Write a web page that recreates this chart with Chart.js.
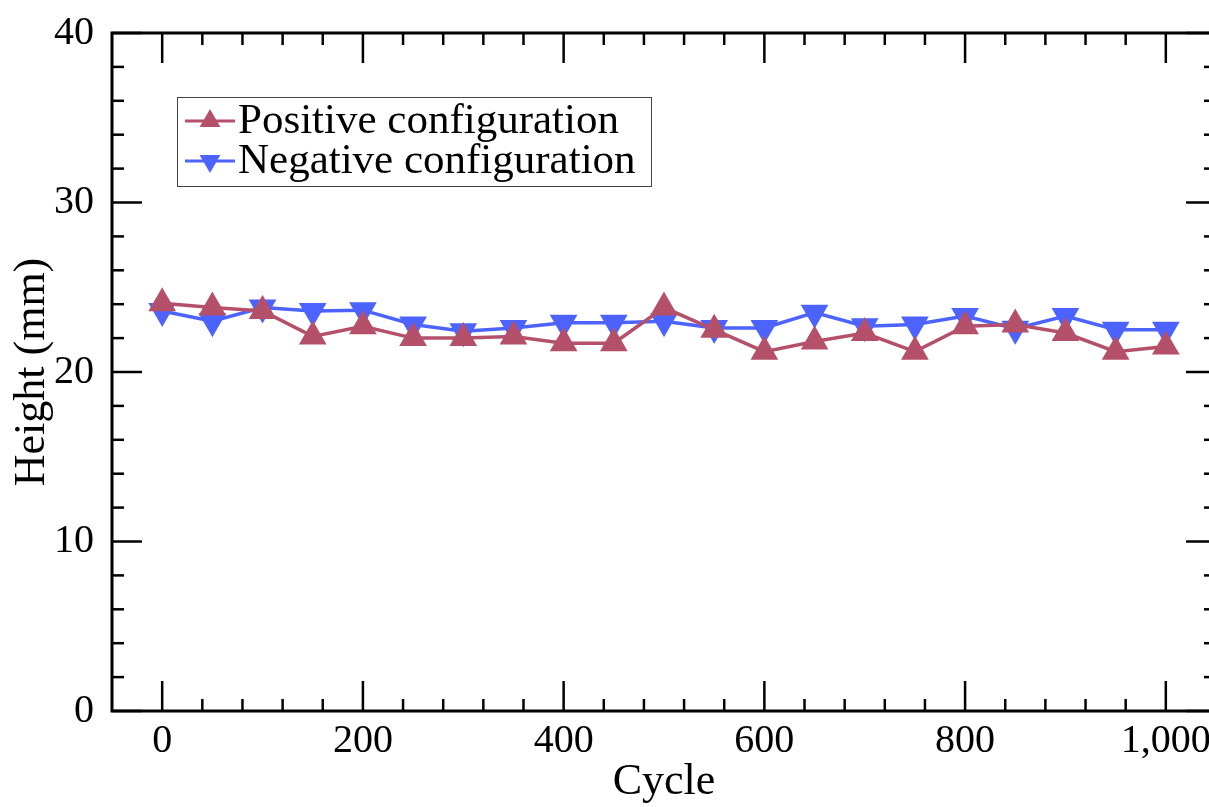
<!DOCTYPE html>
<html>
<head>
<meta charset="utf-8">
<script src="https://cdn.jsdelivr.net/npm/chart.js@4/dist/chart.umd.min.js"></script>
<style>
    html, body { margin: 0; padding: 0; background: #fff; overflow: hidden; }
    #wrap { position: relative; width: 1240px; height: 807px; }
</style>
</head>
<body>
<div id="wrap"><canvas id="chart" width="1240" height="807"></canvas></div>
<script>
// ─── DATA ──────────────────────────────────────────────────
const cycles = [0, 50, 100, 150, 200, 250, 300, 350, 400, 450, 500,
                550, 600, 650, 700, 750, 800, 850, 900, 950, 1000];
const positiveHeight = [24.05, 23.8, 23.6, 22.1, 22.7, 22.0, 22.0, 22.1, 21.7, 21.7, 23.8,
                        22.5, 21.2, 21.8, 22.3, 21.2, 22.7, 22.8, 22.3, 21.2, 21.5];
const negativeHeight = [23.6, 23.0, 23.8, 23.6, 23.65, 22.8, 22.4, 22.6, 22.9, 22.9, 23.0,
                        22.6, 22.6, 23.5, 22.7, 22.8, 23.3, 22.55, 23.3, 22.5, 22.5];
const xMajorTicks = [0, 200, 400, 600, 800, 1000];
const yMajorTicks = [0, 10, 20, 30, 40];

const FONT = "'Liberation Serif', 'DejaVu Serif', serif";
const RED = "#b5506a";
const BLUE = "#4c63ff";

// ─── FRAME + INWARD TICKS ─────────────────────────────────
const frameTicks = {
    id: "frameTicks",
    afterDraw(chart) {
        const { ctx, chartArea: a, scales: { x, y } } = chart;
        const line = (x1, y1, x2, y2) => {
            ctx.beginPath(); ctx.moveTo(x1, y1); ctx.lineTo(x2, y2); ctx.stroke();
        };
        ctx.save();
        ctx.strokeStyle = "#000";
        ctx.lineWidth = 2.5;
        for (let v = 0; v <= 1000; v += 40) {
            const px = x.getPixelForValue(v);
            const len = xMajorTicks.includes(v) ? 30 : 12;
            line(px, a.bottom, px, a.bottom - len);
            line(px, a.top, px, a.top + len);
        }
        for (let v = 0; v <= 40; v += 2) {
            const py = y.getPixelForValue(v);
            const len = yMajorTicks.includes(v) ? 30 : 12;
            line(a.left, py, a.left + len, py);
            line(a.right, py, a.right - len, py);
        }
        ctx.lineWidth = 3;
        ctx.strokeRect(a.left, a.top, a.right - a.left, a.bottom - a.top);
        ctx.restore();
    },
};

// ─── LEGEND BOX ───────────────────────────────────────────
const boxLegend = {
    id: "boxLegend",
    afterDraw(chart) {
        const { ctx } = chart;
        const box = { left: 177, top: 97, width: 474, height: 89 };
        ctx.save();
        ctx.fillStyle = "#fff";
        ctx.fillRect(box.left, box.top, box.width, box.height);
        ctx.strokeStyle = "#444";
        ctx.lineWidth = 1;
        ctx.strokeRect(box.left + 0.5, box.top + 0.5, box.width, box.height);
        ctx.font = "43px " + FONT;
        ctx.textBaseline = "middle";
        chart.data.datasets.forEach((ds, i) => {
            const cy = box.top + 24 + i * 40;
            ctx.strokeStyle = ds.borderColor;
            ctx.lineWidth = 3;
            ctx.beginPath(); ctx.moveTo(185, cy); ctx.lineTo(235, cy); ctx.stroke();
            ctx.fillStyle = ds.pointBackgroundColor;
            Chart.helpers.drawPoint(ctx, {
                pointStyle: "triangle", radius: 12, rotation: ds.pointRotation, borderWidth: 0,
            }, 210, cy);
            ctx.fillStyle = "#000";
            ctx.fillText(ds.label, 238, cy + 1);
        });
        ctx.restore();
    },
};

const tickFont = { family: FONT, size: 40 };
const titleFont = { family: FONT, size: 44 };

new Chart(document.getElementById("chart"), {
    type: "line",
    data: {
        datasets: [
            {
                label: "Positive configuration",
                data: cycles.map((c, i) => ({ x: c, y: positiveHeight[i] })),
                borderColor: RED,
                backgroundColor: RED,
                pointBackgroundColor: RED,
                pointBorderColor: RED,
                borderWidth: 3.5,
                pointStyle: "triangle",
                pointRadius: 12.5,
                pointRotation: 0,
                tension: 0,
            },
            {
                label: "Negative configuration",
                data: cycles.map((c, i) => ({ x: c, y: negativeHeight[i] })),
                borderColor: BLUE,
                backgroundColor: BLUE,
                pointBackgroundColor: BLUE,
                pointBorderColor: BLUE,
                borderWidth: 3.5,
                pointStyle: "triangle",
                pointRadius: 12.5,
                pointRotation: 180,
                tension: 0,
            },
        ],
    },
    options: {
        responsive: false,
        animation: false,
        devicePixelRatio: 1,
        layout: { padding: { top: 33, right: 24, left: 0, bottom: 0 } },
        plugins: { legend: { display: false }, tooltip: { enabled: false } },
        scales: {
            x: {
                type: "linear",
                min: -50,
                max: 1050,
                afterBuildTicks: s => { s.ticks = xMajorTicks.map(v => ({ value: v })); },
                afterFit: s => { s.height = 96; s.paddingLeft = 0; s.paddingRight = 0; },
                grid: { display: false, drawTicks: false },
                border: { display: false },
                ticks: {
                    font: tickFont, color: "#000", padding: 6, maxRotation: 0,
                    callback: v => v.toLocaleString("en-US"),
                },
                title: { display: true, text: "Cycle", font: titleFont, color: "#000", padding: { top: 0, bottom: -2 } },
            },
            y: {
                min: 0,
                max: 40,
                afterBuildTicks: s => { s.ticks = yMajorTicks.map(v => ({ value: v })); },
                afterFit: s => { s.width = 112; s.paddingTop = 0; s.paddingBottom = 0; },
                grid: { display: false, drawTicks: false },
                border: { display: false },
                ticks: { font: tickFont, color: "#000", padding: 18 },
                title: { display: true, text: "Height (mm)", font: titleFont, color: "#000", padding: { top: 6, bottom: 0 } },
            },
        },
    },
    plugins: [frameTicks, boxLegend],
});
</script>
</body>
</html>
